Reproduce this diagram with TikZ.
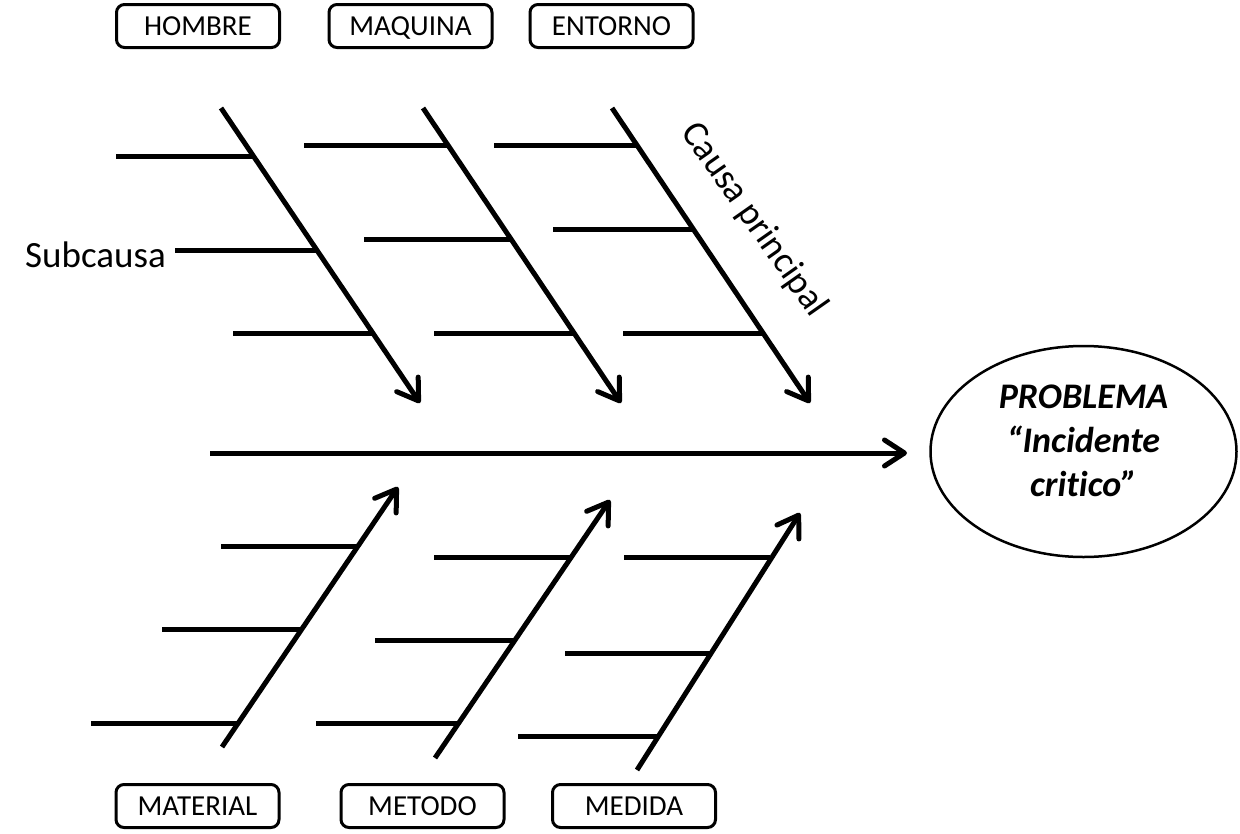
\documentclass[tikz,border=0pt]{standalone}
\usepackage{fontspec}
\setmainfont{Carlito}[Ligatures=NoCommon]
\usetikzlibrary{arrows.meta,shapes.geometric}
\begin{document}
\begin{tikzpicture}[x=1pt,y=-1pt,
  bone/.style={line width=5pt,-{Straight Barb[length=20pt,width=26pt,line cap=round,line join=round]}},
  subline/.style={line width=5pt},
  catbox/.style={draw,line width=3pt,rounded corners=8pt,minimum width=163pt,minimum height=43pt,
    inner sep=0pt,text height=19pt,text depth=0pt,font=\fontsize{29}{31}\selectfont},
  lbl/.style={font=\fontsize{37}{40}\selectfont,inner sep=0pt},
]
\useasboundingbox (0,0) rectangle (1240,833);

% category boxes
\node[catbox] (hombre)   at (198,26)  {HOMBRE};
\node[catbox] (maquina)  at (410.5,26) {MAQUINA};
\node[catbox] (entorno)  at (611.5,26) {ENTORNO};
\node[catbox] (material) at (197.5,806) {MATERIAL};
\node[catbox] (metodo)   at (422.5,806) {METODO};
\node[catbox] (medida)   at (634,806) {MEDIDA};

% problem
\node[draw,ellipse,line width=2.5pt,minimum width=306pt,minimum height=211pt,inner sep=0pt] (prob) at (1083.5,451.5) {};
\node[align=center,inner sep=0pt,font=\fontsize{36}{44}\selectfont\bfseries\itshape] (probtxt) at (1083.5,441) {PROBLEMA\\“Incidente\\critico”};

% spine
\coordinate (sp0) at (210,453);
\coordinate (sp1) at (907,453);
\draw[bone] (sp0) -- (sp1);

% top bones
\coordinate (b1s) at (221,108); \coordinate (b1e) at (420,403);
\coordinate (b2s) at (423,108); \coordinate (b2e) at (621,403);
\coordinate (b3s) at (612,108); \coordinate (b3e) at (810,403);
\draw[bone] (b1s) -- (b1e);
\draw[bone] (b2s) -- (b2e);
\draw[bone] (b3s) -- (b3e);

% bottom bones
\coordinate (b4s) at (222,747); \coordinate (b4e) at (398,487);
\coordinate (b5s) at (435,758); \coordinate (b5e) at (610,500);
\coordinate (b6s) at (637,770); \coordinate (b6e) at (800,513);
\draw[bone] (b4s) -- (b4e);
\draw[bone] (b5s) -- (b5e);
\draw[bone] (b6s) -- (b6e);

% sub causes (top)
\coordinate (s1a) at (116,156); \coordinate (s1b) at (254,156);
\coordinate (s2a) at (175,250); \coordinate (s2b) at (317,250);
\coordinate (s3a) at (233,333); \coordinate (s3b) at (373,333);
\coordinate (s4a) at (304,145); \coordinate (s4b) at (448,145);
\coordinate (s5a) at (364,239); \coordinate (s5b) at (511,239);
\coordinate (s6a) at (434,333); \coordinate (s6b) at (574,333);
\coordinate (s7a) at (494,145); \coordinate (s7b) at (637,145);
\coordinate (s8a) at (553,229); \coordinate (s8b) at (693,229);
\coordinate (s9a) at (623,333); \coordinate (s9b) at (763,333);
% sub causes (bottom)
\coordinate (t1a) at (221,546); \coordinate (t1b) at (358,546);
\coordinate (t2a) at (162,629); \coordinate (t2b) at (302,629);
\coordinate (t3a) at (91,723);  \coordinate (t3b) at (238,723);
\coordinate (t4a) at (434,557); \coordinate (t4b) at (571,557);
\coordinate (t5a) at (375,640); \coordinate (t5b) at (515,640);
\coordinate (t6a) at (316,723); \coordinate (t6b) at (459,723);
\coordinate (t7a) at (624,557); \coordinate (t7b) at (770,557);
\coordinate (t8a) at (565,653); \coordinate (t8b) at (710,653);
\coordinate (t9a) at (518,736); \coordinate (t9b) at (658,736);

\foreach \n in {s1,s2,s3,s4,s5,s6,s7,s8,s9,t1,t2,t3,t4,t5,t6,t7,t8,t9}
  \draw[subline] (\n a) -- (\n b);

% labels
\node[lbl,anchor=base] (subcausa) at (95.5,267) {Subcausa};
\node[lbl,rotate=-55] (causa) at (754,220) {Causa principal};
\end{tikzpicture}
\end{document}
